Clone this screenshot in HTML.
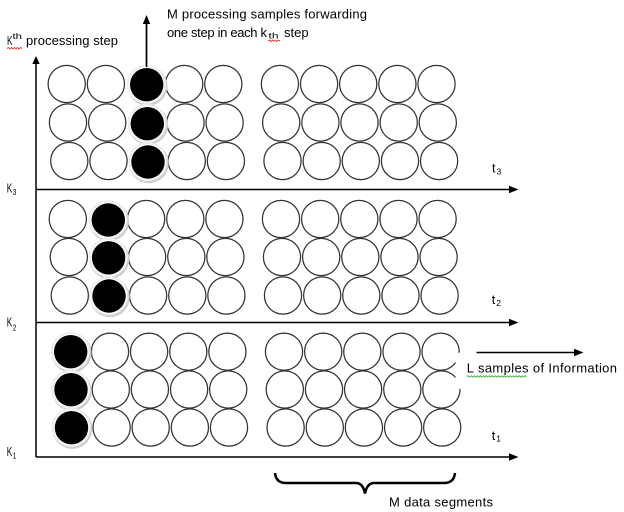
<!DOCTYPE html>
<html>
<head>
<meta charset="utf-8">
<style>
  html, body { margin: 0; padding: 0; background: #fff; }
  svg { display: block; }
  text { font-family: "Liberation Sans", "DejaVu Sans", sans-serif; fill: #000; }
</style>
</head>
<body>
<svg width="624" height="512" viewBox="0 0 624 512" xmlns="http://www.w3.org/2000/svg">
  <rect width="624" height="512" fill="#fff"/>

  <!-- Axes -->
  <g stroke="#000" stroke-width="1.5" fill="none">
    <line x1="36" y1="457" x2="36" y2="62"/>
    <line x1="36" y1="189.5" x2="510" y2="189.5"/>
    <line x1="36" y1="322.5" x2="510" y2="322.5"/>
    <line x1="36" y1="457" x2="510" y2="457"/>
    <line x1="146.5" y1="66" x2="146.5" y2="23"/>
    <line x1="476.5" y1="352.5" x2="575" y2="352.5"/>
  </g>
  <g fill="#000">
    <polygon points="36,56 32.3,64 39.7,64"/>
    <polygon points="518.5,189.5 509,185.8 509,193.2"/>
    <polygon points="518.5,322.5 509,318.8 509,326.2"/>
    <polygon points="518.5,457 509,453.3 509,460.7"/>
    <polygon points="146.5,15 142.8,24 150.2,24"/>
    <polygon points="583.5,352.5 574,348.8 574,356.2"/>
  </g>

  <!-- Unfilled circles -->
  <g fill="#fff" stroke="#333" stroke-width="1.25">
    <!-- Block A -->
    <circle cx="66.7" cy="84" r="18.6"/><circle cx="105.9" cy="84" r="18.6"/><circle cx="184.2" cy="84" r="18.6"/><circle cx="223.3" cy="84" r="18.6"/>
    <circle cx="279.9" cy="84" r="18.6"/><circle cx="319.1" cy="84" r="18.6"/><circle cx="358.2" cy="84" r="18.6"/><circle cx="397.4" cy="84" r="18.6"/><circle cx="436.5" cy="84" r="18.6"/>
    <circle cx="68.0" cy="122.5" r="18.6"/><circle cx="107.2" cy="122.5" r="18.6"/><circle cx="185.5" cy="122.5" r="18.6"/><circle cx="224.6" cy="122.5" r="18.6"/>
    <circle cx="281.2" cy="122.5" r="18.6"/><circle cx="320.4" cy="122.5" r="18.6"/><circle cx="359.5" cy="122.5" r="18.6"/><circle cx="398.7" cy="122.5" r="18.6"/><circle cx="437.8" cy="122.5" r="18.6"/>
    <circle cx="69.3" cy="161" r="18.6"/><circle cx="108.5" cy="161" r="18.6"/><circle cx="186.8" cy="161" r="18.6"/><circle cx="225.9" cy="161" r="18.6"/>
    <circle cx="282.5" cy="161" r="18.6"/><circle cx="321.7" cy="161" r="18.6"/><circle cx="360.8" cy="161" r="18.6"/><circle cx="400.0" cy="161" r="18.6"/><circle cx="439.1" cy="161" r="18.6"/>
    <!-- Block B -->
    <circle cx="67.8" cy="219" r="18.6"/><circle cx="146.1" cy="219" r="18.6"/><circle cx="185.3" cy="219" r="18.6"/><circle cx="224.4" cy="219" r="18.6"/>
    <circle cx="281.0" cy="219" r="18.6"/><circle cx="320.2" cy="219" r="18.6"/><circle cx="359.3" cy="219" r="18.6"/><circle cx="398.5" cy="219" r="18.6"/><circle cx="437.6" cy="219" r="18.6"/>
    <circle cx="68.8" cy="257" r="18.6"/><circle cx="147.1" cy="257" r="18.6"/><circle cx="186.3" cy="257" r="18.6"/><circle cx="225.4" cy="257" r="18.6"/>
    <circle cx="282.0" cy="257" r="18.6"/><circle cx="321.2" cy="257" r="18.6"/><circle cx="360.3" cy="257" r="18.6"/><circle cx="399.5" cy="257" r="18.6"/><circle cx="438.6" cy="257" r="18.6"/>
    <circle cx="69.8" cy="295.5" r="18.6"/><circle cx="148.1" cy="295.5" r="18.6"/><circle cx="187.3" cy="295.5" r="18.6"/><circle cx="226.4" cy="295.5" r="18.6"/>
    <circle cx="283.0" cy="295.5" r="18.6"/><circle cx="322.2" cy="295.5" r="18.6"/><circle cx="361.3" cy="295.5" r="18.6"/><circle cx="400.5" cy="295.5" r="18.6"/><circle cx="439.6" cy="295.5" r="18.6"/>
    <!-- Block C -->
    <circle cx="110.0" cy="351.7" r="18.6"/><circle cx="149.1" cy="351.7" r="18.6"/><circle cx="188.3" cy="351.7" r="18.6"/><circle cx="227.4" cy="351.7" r="18.6"/>
    <circle cx="284.0" cy="351.7" r="18.6"/><circle cx="323.2" cy="351.7" r="18.6"/><circle cx="362.3" cy="351.7" r="18.6"/><circle cx="401.5" cy="351.7" r="18.6"/><circle cx="440.6" cy="351.7" r="18.6"/>
    <circle cx="110.8" cy="389.5" r="18.6"/><circle cx="149.9" cy="389.5" r="18.6"/><circle cx="189.1" cy="389.5" r="18.6"/><circle cx="228.2" cy="389.5" r="18.6"/>
    <circle cx="284.8" cy="389.5" r="18.6"/><circle cx="324.0" cy="389.5" r="18.6"/><circle cx="363.1" cy="389.5" r="18.6"/><circle cx="402.3" cy="389.5" r="18.6"/><circle cx="441.4" cy="389.5" r="18.6"/>
    <circle cx="111.6" cy="427.5" r="18.6"/><circle cx="150.7" cy="427.5" r="18.6"/><circle cx="189.9" cy="427.5" r="18.6"/><circle cx="229.0" cy="427.5" r="18.6"/>
    <circle cx="285.6" cy="427.5" r="18.6"/><circle cx="324.8" cy="427.5" r="18.6"/><circle cx="363.9" cy="427.5" r="18.6"/><circle cx="403.1" cy="427.5" r="18.6"/><circle cx="442.2" cy="427.5" r="18.6"/>
  </g>

  <!-- white box clipping right circles near label -->
  <rect x="455.5" y="352.8" width="12" height="36" fill="#fff"/>

  <!-- Filled circles -->
  <defs>
    <g id="fc">
      <circle cx="0.8" cy="1.2" r="20" fill="#cdcdcd"/>
      <circle cx="-0.3" cy="-0.3" r="19.6" fill="#ededed"/>
      <circle cx="0" cy="0" r="17.8" fill="#fff"/>
      <circle cx="0" cy="0" r="16.7" fill="#000"/>
    </g>
  </defs>
  <use href="#fc" x="146.7" y="84.7"/>
  <use href="#fc" x="147.3" y="123.7"/>
  <use href="#fc" x="148" y="162"/>
  <use href="#fc" x="108.3" y="220"/>
  <use href="#fc" x="108.6" y="257.8"/>
  <use href="#fc" x="109" y="296"/>
  <use href="#fc" x="70.7" y="351.7"/>
  <use href="#fc" x="71" y="389.7"/>
  <use href="#fc" x="71.5" y="427.7"/>

  <line x1="146.5" y1="67" x2="146.5" y2="23" stroke="#000" stroke-width="1.5"/>

  <!-- Brace -->
  <path d="M275,473 Q276,483 286,483 L356,483 Q363,483 365,493.5 Q367,483 374,483 L444,483 Q454,483 455,473" fill="none" stroke="#000" stroke-width="2.5"/>

  <!-- Wavy underlines -->
  <polyline points="7,48.5 8.5,47.5 10,49 11.5,47.5 13,49 14.5,47.5 16,49 17.5,47.5 19,49 20.5,47.5 22,48.5" fill="none" stroke="#e02020" stroke-width="0.8"/>
  <polyline points="268,41 269.5,40 271,41.5 272.5,40 274,41.5 275.5,40 277,41.5 278.5,40 280,41" fill="none" stroke="#e02020" stroke-width="0.8"/>
  <polyline points="466.7,376.7 468.2,375.7 469.7,377.2 471.2,375.7 472.7,377.2 474.2,375.7 475.7,377.2 477.2,375.7 478.7,377.2 480.2,375.7 481.7,377.2 483.2,375.7 484.7,377.2 486.2,375.7 487.7,377.2 489.2,375.7 490.7,377.2 492.2,375.7 493.7,377.2 495.2,375.7 496.7,377.2 498.2,375.7 499.7,377.2 501.2,375.7 502.7,377.2 504.2,375.7 505.7,377.2 507.2,375.7 508.7,377.2 510.2,375.7 511.7,377.2 513.2,375.7 514.7,377.2 516.2,375.7 517.7,377.2 519.2,375.7 520.7,377.2 522.2,375.7 523.7,377.2 525.2,375.7 526.7,376.7" fill="none" stroke="#3aa33a" stroke-width="0.8"/>

  <!-- Texts -->
  <text x="7" y="45" font-size="13" textLength="5.5" lengthAdjust="spacingAndGlyphs">K</text>
  <text x="12.5" y="39" font-size="8.5" textLength="9.5" lengthAdjust="spacingAndGlyphs">th</text>
  <text x="26" y="45" font-size="13" textLength="92" lengthAdjust="spacing">processing step</text>

  <text x="167" y="18.3" font-size="13" textLength="200" lengthAdjust="spacing">M processing samples forwarding</text>
  <text x="167" y="37" font-size="13" textLength="100" lengthAdjust="spacing">one step in each k</text>
  <text x="268.5" y="38.7" font-size="8" textLength="10" lengthAdjust="spacingAndGlyphs">th</text>
  <text x="284" y="37" font-size="13">step</text>

  <text x="6.7" y="192.3" font-size="12.5" textLength="5.5" lengthAdjust="spacingAndGlyphs">K</text>
  <text x="12.8" y="195" font-size="8.5" textLength="3.6" lengthAdjust="spacingAndGlyphs">3</text>
  <text x="6.7" y="326.7" font-size="12.5" textLength="5.5" lengthAdjust="spacingAndGlyphs">K</text>
  <text x="12.8" y="330.3" font-size="8.5" textLength="3.6" lengthAdjust="spacingAndGlyphs">2</text>
  <text x="6.7" y="456" font-size="12.5" textLength="5.5" lengthAdjust="spacingAndGlyphs">K</text>
  <text x="12.8" y="458.5" font-size="8.5" textLength="3.6" lengthAdjust="spacingAndGlyphs">1</text>

  <text x="492" y="172.7" font-size="12.5">t</text>
  <text x="496.5" y="174.3" font-size="8.5">3</text>
  <text x="491.7" y="304" font-size="12.5">t</text>
  <text x="496.2" y="306" font-size="8.5">2</text>
  <text x="491.7" y="440" font-size="12.5">t</text>
  <text x="496.2" y="441.7" font-size="8.5">1</text>

  <text x="466.7" y="372.5" font-size="13">L</text>
  <text x="478" y="372.5" font-size="13" textLength="139" lengthAdjust="spacing">samples of Information</text>

  <text x="389" y="506.5" font-size="13" textLength="104" lengthAdjust="spacing">M data segments</text>
</svg>
</body>
</html>
